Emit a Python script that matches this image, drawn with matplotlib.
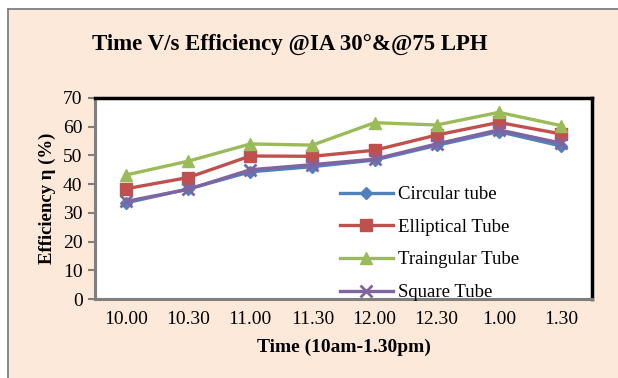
import matplotlib.pyplot as plt
from matplotlib.patches import Rectangle
from matplotlib.lines import Line2D

# data
times = ['10.00', '10.30', '11.00', '11.30', '12.00', '12.30', '1.00', '1.30']
circular = [33.5, 38.3, 44.3, 46.1, 48.4, 53.5, 58.3, 53.3]
elliptical = [38.4, 42.3, 49.8, 49.7, 51.8, 57.1, 61.5, 57.5]
triangular = [43.2, 48.0, 54.0, 53.6, 61.4, 60.6, 65.0, 60.4]
square = [34.0, 38.2, 45.0, 46.8, 48.7, 54.0, 58.9, 54.3]

plt.rcParams['font.family'] = ['Liberation Serif', 'DejaVu Serif']

fig = plt.figure(figsize=(6.18, 3.78), dpi=100)
fig.patch.set_facecolor('white')

# peach chart area with border on left/top (cropped on right/bottom)
W, H = 618, 378
bg = Rectangle((8 / W, 0), 1, (378 - 9) / H, transform=fig.transFigure,
               facecolor='#FDE9D9', edgecolor='none', zorder=-10)
fig.patches.append(bg)
fig.lines.append(Line2D([8 / W, 8 / W], [0, (378 - 9) / H], transform=fig.transFigure,
                        color='#7f7f7f', lw=1.3))
fig.lines.append(Line2D([8 / W, 1], [(378 - 9) / H, (378 - 9) / H], transform=fig.transFigure,
                        color='#7f7f7f', lw=1.3))

ax = fig.add_axes([95 / W, (378 - 299) / H, (592 - 95) / W, (299 - 98) / H])
ax.set_facecolor('white')

x = range(len(times))
ax.plot(x, circular, color='#4F81BD', lw=2.4, marker='D', ms=6.5, label='Circular tube')
ax.plot(x, elliptical, color='#C0504D', lw=2.4, marker='s', ms=8, label='Elliptical Tube')
ax.plot(x, triangular, color='#9BBB59', lw=2.4, marker='^', ms=9, label='Traingular Tube')
ax.plot(x, square, color='#8064A2', lw=2.4, marker='x', ms=8, mew=2, label='Square Tube')

ax.set_xlim(-0.5, len(times) - 0.5)
ax.set_ylim(0, 70)
ax.set_yticks(range(0, 71, 10))
ax.set_xticks(list(x))
ax.set_xticklabels(times)
ax.tick_params(axis='y', direction='out', length=5, width=1.5, color='#7f7f7f',
               labelsize=14, pad=4)
ax.tick_params(axis='x', length=0, labelsize=14, pad=9)

for s in ['top', 'right']:
    ax.spines[s].set_color('black')
    ax.spines[s].set_linewidth(2.5)
for s in ['left', 'bottom']:
    ax.spines[s].set_color('#7f7f7f')
    ax.spines[s].set_linewidth(2.2)

ax.set_xlabel('Time (10am-1.30pm)', fontsize=14, fontweight='bold', labelpad=7)
ax.set_ylabel('Efficiency η (%)', fontsize=13.5, fontweight='bold', labelpad=5)

fig.text(290 / W, 1 - 44 / H, 'Time V/s Efficiency @IA 30°&@75 LPH',
         ha='center', va='center', fontsize=16.5, fontweight='bold')

leg = ax.legend(loc='upper left', bbox_to_anchor=(340 / W, 1 - 186 / H),
                bbox_transform=fig.transFigure, frameon=False, fontsize=13.5,
                handlelength=2.8, handletextpad=0.3, labelspacing=0.83,
                borderpad=0, borderaxespad=0)

fig.savefig('out.png', dpi=100, facecolor=fig.get_facecolor())
